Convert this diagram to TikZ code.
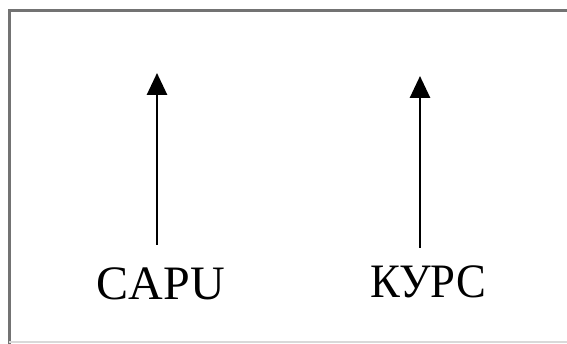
\documentclass[tikz,border=0pt]{standalone}
\usepackage{fontspec}
\setmainfont{Liberation Serif}
\usetikzlibrary{arrows.meta}
\begin{document}
\begin{tikzpicture}[x=1pt,y=1pt,
  lbl/.style={inner sep=0pt, anchor=base, font=\fontsize{48}{50}\selectfont},
  uparrow/.style={line width=2.8pt, -{Triangle[length=22pt,width=20pt]}},
  frameline/.style={line width=3pt, draw=black!55}]
\useasboundingbox (0,0) rectangle (567,344);
\clip (0,0) rectangle (567,344);
% frame
\draw[frameline] (9.5,0) -- (9.5,333.5) -- (580,333.5);
\draw[line width=2pt, draw=black!15] (9,2) -- (580,2);
% labels
\node[lbl] (sari) at (161,44) {CAPU};
\node[lbl, xscale=0.93] (kurs) at (428,46) {КУРС};
% arrows
\coordinate (s0) at (157,99);
\coordinate (s1) at (157,271);
\coordinate (k0) at (420,96);
\coordinate (k1) at (420,268);
\draw[uparrow] (s0) -- (s1);
\draw[uparrow] (k0) -- (k1);
\end{tikzpicture}
\end{document}
